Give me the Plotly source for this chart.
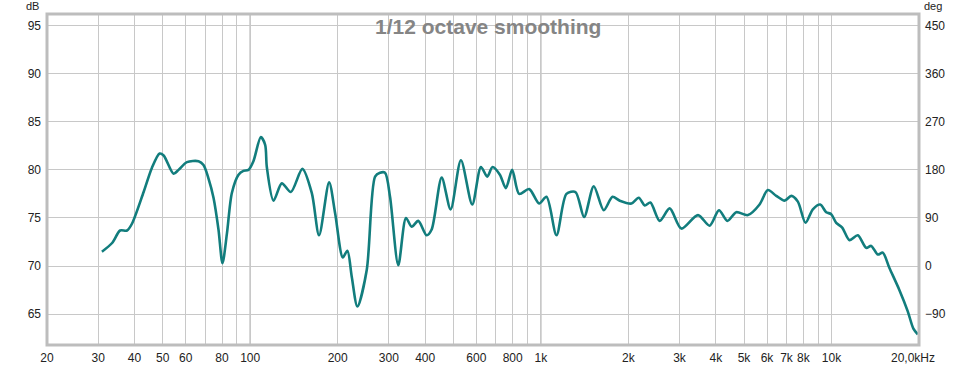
import plotly.graph_objects as go

# Frequency response
freq_hz = [30.9, 33.5, 35.7, 37.7, 39.2, 43.0, 45.9, 48.8, 50.4, 54.5, 56.7, 60.6, 66.4, 69.1,
           71.9, 74.8, 77.8, 80.3, 83.2, 86.5, 91.2, 94.8, 98.7, 102.6, 108.8, 112.6, 114.1,
           120.3, 128.5, 138.0, 151.2, 162.9, 172.6, 186.9, 196.0, 208.3, 216.0, 223.6, 233.8,
           251.8, 269.0, 279.7, 291.0, 302.8, 323.3, 343.6, 359.5, 378.8, 404.8, 421.1, 455.9,
           489.4, 531.0, 580.7, 622.1, 654.0, 682.3, 723.0, 758.1, 796.9, 842.2, 911.8, 986.7,
           1046, 1132, 1225, 1316, 1409, 1521, 1646, 1764, 1869, 2050, 2172, 2278, 2382, 2564,
           2775, 3044, 3472, 3809, 4101, 4382, 4704, 5157, 5656, 6039, 6457, 6896, 7270, 7661,
           8140, 8626, 9146, 9589, 9977, 10380, 10885, 11534, 12314, 13160, 13697, 14428, 15010,
           15823, 17131, 18297, 19129, 19810]
spl_db = [71.5, 72.4, 73.7, 73.7, 74.4, 77.7, 80.2, 81.7, 81.5, 79.6, 80.0, 80.8, 80.9, 80.5,
          79.1, 77.1, 73.8, 70.3, 73.4, 77.6, 79.5, 79.9, 80.0, 80.9, 83.4, 82.6, 80.3,
          76.8, 78.6, 77.7, 80.1, 77.6, 73.2, 78.7, 75.5, 70.9, 71.6, 68.9, 65.8,
          69.6, 79.3, 79.7, 79.7, 77.2, 70.1, 75.0, 74.1, 74.7, 73.2, 73.8, 79.2,
          75.9, 81.0, 76.4, 80.3, 79.3, 80.3, 79.5, 78.1, 80.0, 77.5, 78.0, 76.5,
          77.2, 73.2, 77.5, 77.7, 75.1, 78.3, 75.8, 77.2, 76.8, 76.5, 77.1, 76.3, 76.6, 74.7,
          76.0, 73.9, 75.3, 74.2, 75.8, 74.7, 75.6, 75.3, 76.4, 77.9, 77.3, 76.8, 77.3, 76.7,
          74.5, 75.9, 76.4, 75.6, 75.4, 74.5, 74.0, 72.7, 73.2, 71.9, 72.1, 71.2, 71.4,
          69.8, 67.5, 65.3, 63.5, 62.9]

x_tick_vals = [20, 30, 40, 50, 60, 70, 80, 90, 100, 200, 300, 400, 500, 600, 700, 800, 900,
               1000, 2000, 3000, 4000, 5000, 6000, 7000, 8000, 9000, 10000, 20000]
x_tick_text = ["20", "30", "40", "50", "60", "", "80", "", "100", "200", "300", "400", "", "600",
               "", "800", "", "1k", "2k", "3k", "4k", "5k", "6k", "7k", "8k", "", "10k", ""]
x_end_label = "20,0kHz"
x_end_freq = 20000
db_ticks = [65, 70, 75, 80, 85, 90, 95]
deg_ticks = [-90, 0, 90, 180, 270, 360, 450]
decades = [100, 1000, 10000]

db_range = [61.8, 96.2]
deg_range = [(db_range[0] - 70) * 18, (db_range[1] - 70) * 18]

FONT = "Liberation Sans, Arial, sans-serif"

import math

fig = go.Figure()
fig.add_trace(go.Scatter(x=freq_hz, y=spl_db, mode="lines",
                         line=dict(color="#127d7d", width=2.6, shape="spline", smoothing=0.8),
                         hoverinfo="skip", showlegend=False))
fig.add_trace(go.Scatter(x=[1000], y=[0], yaxis="y2", mode="markers",
                         marker=dict(opacity=0), showlegend=False, hoverinfo="skip"))

for d in decades:
    fig.add_shape(type="line", xref="x", yref="paper", x0=d, x1=d, y0=0, y1=1,
                  line=dict(color="#8a8a8a", width=1), layer="below")

fig.add_shape(type="rect", xref="paper", yref="paper", x0=0, x1=1, y0=0, y1=1,
              line=dict(color="#bdbdbd", width=3), layer="above")

fig.update_layout(
    width=977, height=366,
    margin=dict(l=47, r=58, t=14, b=21, autoexpand=False),
    paper_bgcolor="white", plot_bgcolor="white",
    font=dict(family=FONT, size=12, color="#222222"),
    xaxis=dict(type="log", range=[1.30103, 4.30103], tickvals=x_tick_vals, ticktext=x_tick_text,
               showgrid=True, gridcolor="#c8c8c8", gridwidth=1, zeroline=False,
               ticks="", ticklabelstandoff=4, showline=False, automargin=False),
    yaxis=dict(range=db_range, tickvals=db_ticks, showgrid=True, gridcolor="#c8c8c8",
               gridwidth=1, zeroline=False, ticks="", ticklabelstandoff=5, showline=False,
               automargin=False),
    yaxis2=dict(range=deg_range, tickvals=deg_ticks, overlaying="y", side="right",
                showgrid=False, zeroline=False, ticks="", ticklabelstandoff=5, showline=False,
                automargin=False),
    annotations=[
        dict(text="<b>1/12 octave smoothing</b>", xref="paper", yref="paper", x=0.5057, y=0.961,
             xanchor="center", yanchor="middle", showarrow=False,
             font=dict(family=FONT, size=21, color="#858585")),
        dict(text="dB", xref="paper", yref="paper", x=-0.007, y=1.0, xanchor="right", yanchor="bottom",
             yshift=0, showarrow=False, font=dict(family=FONT, size=11, color="#222222")),
        dict(text="deg", xref="paper", yref="paper", x=1.003, y=1.0, xanchor="left", yanchor="bottom",
             yshift=0, showarrow=False, font=dict(family=FONT, size=11, color="#222222")),
        dict(text=x_end_label, xref="x", yref="paper", x=math.log10(x_end_freq), y=0,
             xanchor="center", yanchor="top", xshift=-6, yshift=-4, showarrow=False,
             font=dict(family=FONT, size=12, color="#222222")),
    ],
)

fig.write_html("out.html", config={"displayModeBar": False},
               post_script="document.body.style.margin='0';document.body.style.overflow='hidden';")
